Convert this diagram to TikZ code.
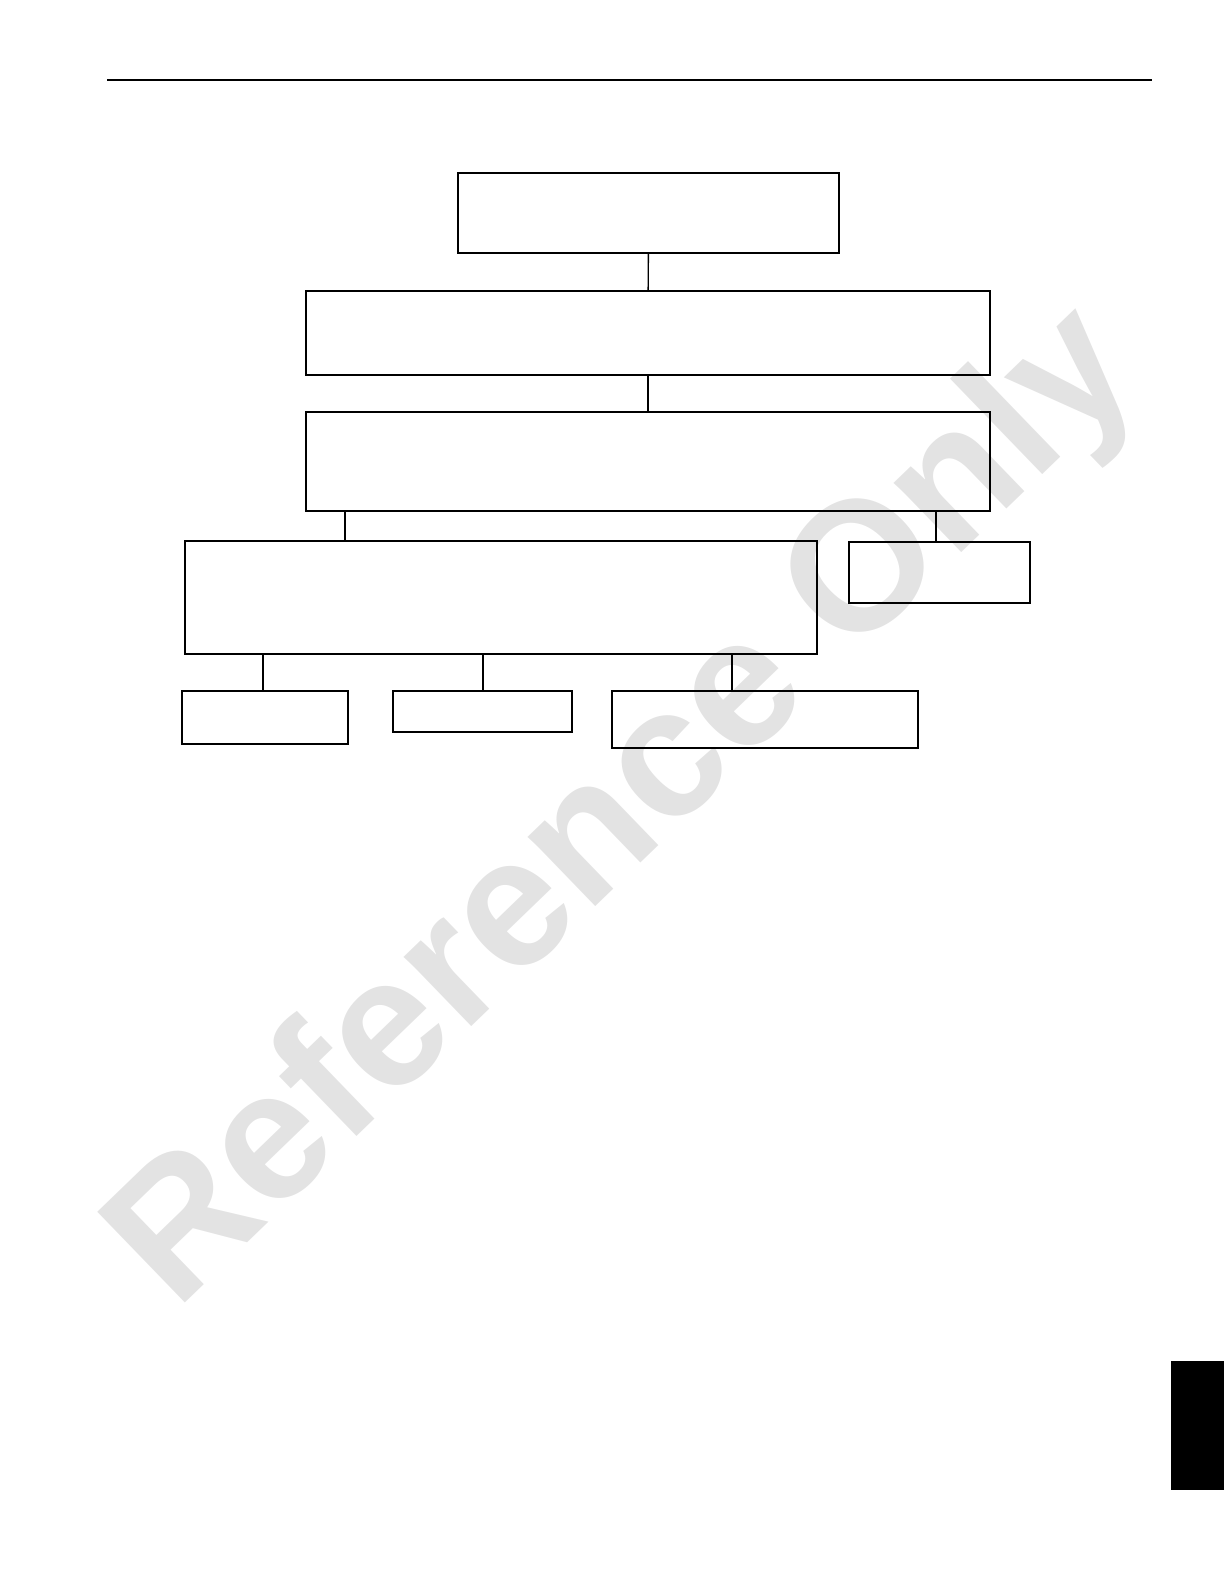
\documentclass[tikz,border=0pt]{standalone}
\usepackage{fontspec}
\setmainfont{Liberation Sans}
\usepackage{tikz}

\tikzset{
  box/.style={draw, line width=1.1bp, inner sep=0pt, outer sep=0pt},
  link/.style={line width=0.7bp},
}

\begin{document}
\begin{tikzpicture}[x=0.5bp, y=-0.5bp]
  \useasboundingbox (0,0) rectangle (1224,1584);
  % watermark
  \node[anchor=base west, rotate=44, text=black!11, inner sep=0pt] (mark) at (176,1312)
    {\fontsize{92}{92}\selectfont\bfseries Reference Only};

  \draw[line width=1.2bp] (107,80) -- (1152,80);
  \fill (1171,1361) rectangle (1224,1490);

  \node[box, line width=1.4bp, minimum width=190.5bp, minimum height=40bp] (ttl) at (648.5,213) {};
  \node[box, minimum width=342bp, minimum height=42bp] (sec) at (648,333) {};
  \node[box, minimum width=342bp, minimum height=49.5bp] (thd) at (648,461.5) {};
  \node[box, minimum width=316bp, minimum height=56.5bp] (fth) at (501,597.5) {};
  \node[box, minimum width=90.5bp, minimum height=30.5bp] (rgt) at (939.5,572.5) {};
  \node[box, minimum width=83bp, minimum height=26.5bp] (bA) at (265,717.5) {};
  \node[box, minimum width=89.5bp, minimum height=20.5bp] (bB) at (482.5,711.5) {};
  \node[box, minimum width=153bp, minimum height=28.5bp] (bC) at (765,719.5) {};

  \draw[link] (ttl) -- (sec);
  \draw[link] (sec) -- (thd);
  \draw[link] (thd.south -| 345,0) -- (fth.north -| 345,0);
  \draw[link] (thd.south -| 936,0) -- (rgt.north -| 936,0);
  \draw[link] (fth.south -| 263,0) -- (bA.north -| 263,0);
  \draw[link] (fth.south -| 483,0) -- (bB.north -| 483,0);
  \draw[link] (fth.south -| 732,0) -- (bC.north -| 732,0);
\end{tikzpicture}
\end{document}
